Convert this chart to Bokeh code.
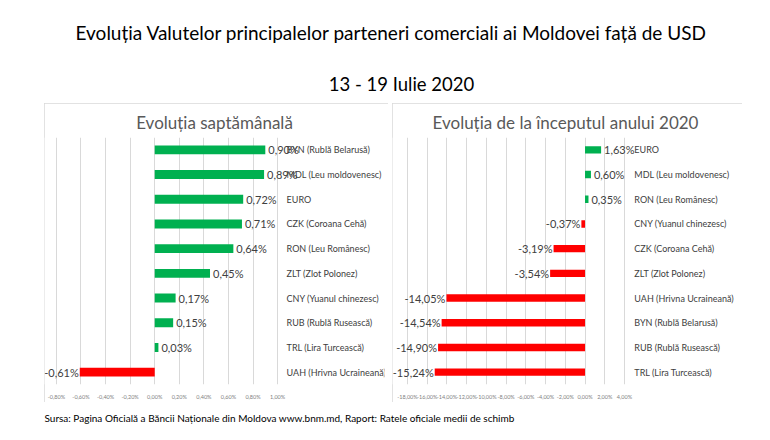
from bokeh.plotting import figure
from bokeh.layouts import column, row
from bokeh.models import (ColumnDataSource, FactorRange, Range1d, FixedTicker,
                          Label, LabelSet, Spacer)
from bokeh.core.properties import value
from bokeh.embed import file_html
from bokeh.resources import INLINE

FONT = "Lato"
GREEN = "#00b050"
RED = "#ff0000"
GRID = "#d9d9d9"
TXT = "#404040"

main_title = "Evoluția Valutelor principalelor parteneri comerciali ai Moldovei față de USD"
sub_title = "13 - 19 Iulie 2020"
source_note = ("Sursa: Pagina Oficială a Băncii Naționale din Moldova www.bnm.md, "
               "Raport: Ratele oficiale medii de schimb")

# Weekly change (%), top to bottom
week_title = "Evoluția saptămânală"
week_cats = ["BYN (Rublă Belarusă)", "MDL (Leu moldovenesc)", "EURO",
             "CZK (Coroana Cehă)", "RON (Leu Românesc)", "ZLT (Zlot Polonez)",
             "CNY (Yuanul chinezesc)", "RUB (Rublă Rusească)",
             "TRL (Lira Turcească)", "UAH (Hrivna Ucraineană)"]
week_vals = [0.90, 0.89, 0.72, 0.71, 0.64, 0.45, 0.17, 0.15, 0.03, -0.61]
week_ticks = [-0.8, -0.6, -0.4, -0.2, 0.0, 0.2, 0.4, 0.6, 0.8, 1.0]

# Change since the start of 2020 (%), top to bottom
ytd_title = "Evoluția de la începutul anului 2020"
ytd_cats = ["EURO", "MDL (Leu moldovenesc)", "RON (Leu Românesc)",
            "CNY (Yuanul chinezesc)", "CZK (Coroana Cehă)", "ZLT (Zlot Polonez)",
            "UAH (Hrivna Ucraineană)", "BYN (Rublă Belarusă)",
            "RUB (Rublă Rusească)", "TRL (Lira Turcească)"]
ytd_vals = [1.63, 0.60, 0.35, -0.37, -3.19, -3.54, -14.05, -14.54, -14.90, -15.24]
ytd_ticks = [-18, -16, -14, -12, -10, -8, -6, -4, -2, 0, 2, 4]


def pct(v):
    return f"{v:.2f}".replace(".", ",") + "%"


def panel(title, cats, vals, ticks, x_start, x_end, label_x, width, bar_h, top, bottom):
    src = ColumnDataSource(dict(
        cat=cats, val=vals,
        color=[GREEN if v >= 0 else RED for v in vals],
        txt=[pct(v) for v in vals],
        align=["left" if v >= 0 else "right" for v in vals],
        off=[3 if v >= 0 else -1 for v in vals],
        lx=[label_x] * len(cats),
    ))
    p = figure(width=width, height=299, output_backend="svg", toolbar_location=None,
               y_range=FactorRange(factors=list(reversed(cats)), range_padding=0),
               x_range=Range1d(x_start, x_end),
               min_border_left=0, min_border_right=4,
               min_border_top=top, min_border_bottom=bottom)
    p.title.text = title
    p.title.align = "center"
    p.title.text_font = FONT
    p.title.text_font_size = "17px"
    p.title.text_font_style = "normal"
    p.title.text_color = "#595959"
    p.outline_line_color = None
    p.yaxis.visible = False
    p.ygrid.grid_line_color = None
    ax = p.xaxis[0]
    ax.ticker = FixedTicker(ticks=ticks)
    ax.major_label_overrides = {t: pct(t) for t in ticks}
    ax.axis_line_color = None
    ax.major_tick_line_color = None
    ax.minor_tick_line_color = None
    ax.major_label_text_font = FONT
    ax.major_label_text_font_size = "5.5px"
    ax.major_label_text_color = "#7f7f7f"
    ax.major_label_standoff = 3
    p.xgrid.grid_line_color = GRID
    p.hbar(y="cat", left=0, right="val", height=bar_h, fill_color="color",
           line_color=None, source=src)
    # value labels next to each bar
    p.add_layout(LabelSet(x="val", y="cat", text="txt", text_align="align",
                          x_offset="off", text_baseline="middle",
                          text_font=value(FONT), text_font_style="normal",
                          text_font_size="11px", text_color=TXT, source=src))
    # currency names in a column right of the grid
    p.add_layout(LabelSet(x="lx", y="cat", text="cat", text_align="left",
                          text_baseline="middle", text_font=value(FONT),
                          text_font_style="normal", text_font_size="9px",
                          text_color=TXT, source=src))
    p.styles = {"outline": "1px solid #d9d9d9", "outline-offset": "-1px"}
    return p


left_p = panel(week_title, week_cats, week_vals, week_ticks, -0.897, 1.87, 1.073,
               344, 0.36, 30, 14)
right_p = panel(ytd_title, ytd_cats, ytd_vals, ytd_ticks, -19.52, 15.56, 5.0,
                350, 0.30, 34, 13)

header = figure(width=770, height=103, x_range=(0, 770), y_range=(0, 103),
                min_border=0, output_backend="svg", toolbar_location=None,
                title=None)
header.axis.visible = False
header.grid.grid_line_color = None
header.outline_line_color = None
header.add_layout(Label(x=391, y=71, text=main_title, text_align="center",
                        text_baseline="alphabetic", text_font=FONT,
                        text_font_style="normal",
                        text_font_size="19px", text_color="black"))
header.add_layout(Label(x=401, y=20, text=sub_title, text_align="center",
                        text_baseline="alphabetic", text_font=FONT,
                        text_font_style="normal",
                        text_font_size="18.5px", text_color="black"))

footer = figure(width=770, height=38, x_range=(0, 770), y_range=(0, 38),
                min_border=0, output_backend="svg", toolbar_location=None,
                title=None)
footer.axis.visible = False
footer.grid.grid_line_color = None
footer.outline_line_color = None
footer.add_layout(Label(x=44, y=23, text=source_note, text_align="left",
                        text_baseline="middle", text_font=FONT,
                        text_font_style="normal",
                        text_font_size="10px", text_color="black"))

p = column(header,
           row(Spacer(width=44), left_p, Spacer(width=4), right_p, Spacer(width=28)),
           footer)

open("out.html", "w").write(file_html(p, INLINE))
